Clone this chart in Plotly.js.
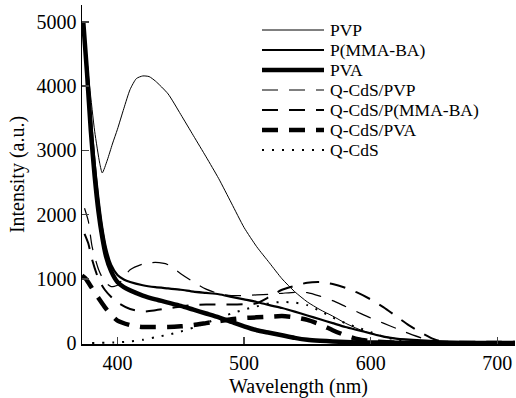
<!DOCTYPE html>
<html><head><meta charset="utf-8">
<script src="https://cdn.plot.ly/plotly-3.0.1.min.js"></script>
<style>html,body{margin:0;padding:0;background:#fff}#chart{width:516px;height:398px}</style>
</head><body><div id="chart"></div>
<script>
// ---- data ----
const seriesNames = ["PVP", "P(MMA-BA)", "PVA", "Q-CdS/PVP", "Q-CdS/P(MMA-BA)", "Q-CdS/PVA", "Q-CdS"];

const pvpX = [373, 378, 382, 386, 388, 392, 396, 400, 405, 410, 415, 420, 425, 430, 440, 450, 460, 470, 480, 490, 500, 510, 520, 530, 540, 550, 560, 570, 580, 590, 600, 620, 650, 700, 714];
const pvpY = [5000, 4000, 3300, 2800, 2650, 2850, 3100, 3330, 3650, 3950, 4120, 4160, 4150, 4080, 3880, 3560, 3230, 2900, 2560, 2180, 1800, 1500, 1250, 1000, 800, 640, 520, 420, 310, 220, 150, 70, 25, 5, 0];

const solidX = [373, 376, 379, 382, 385, 388, 391, 395, 400, 405, 410, 420, 430, 440, 450, 460, 470, 480, 490, 500, 510, 520, 530, 540, 550, 560, 570, 580, 590, 600, 610, 620, 640, 660, 700, 714];
const pmmaY = [5000, 4300, 3500, 2800, 2250, 1800, 1480, 1220, 1060, 990, 950, 900, 870, 850, 830, 800, 780, 760, 720, 680, 640, 590, 545, 490, 430, 370, 310, 250, 200, 150, 100, 70, 40, 20, 5, 0];
const pvaY  = [5000, 4200, 3300, 2600, 2050, 1650, 1350, 1120, 950, 870, 820, 740, 680, 630, 580, 520, 460, 400, 330, 260, 200, 160, 120, 80, 50, 35, 25, 15, 10, 10, 8, 6, 5, 3, 0, 0];

const qpvpX = [374, 377, 380, 385, 390, 395, 400, 410, 420, 430, 440, 450, 460, 470, 480, 490, 500, 510, 520, 530, 540, 550, 560, 570, 580, 590, 600, 610, 620, 630, 640, 650, 660, 700, 714];
const qpvpY = [2100, 1900, 1500, 1150, 950, 880, 900, 1140, 1230, 1255, 1220, 1080, 950, 840, 770, 740, 740, 750, 760, 775, 790, 785, 730, 660, 570, 480, 390, 310, 230, 150, 80, 30, 10, 0, 0];

const qpmmaX = [374, 377, 380, 385, 390, 396, 402, 410, 420, 430, 440, 450, 460, 470, 480, 490, 500, 510, 520, 530, 540, 550, 560, 570, 580, 590, 600, 610, 620, 630, 640, 650, 660, 700, 714];
const qpmmaY = [1700, 1550, 1300, 1000, 830, 700, 610, 530, 490, 510, 540, 570, 590, 600, 600, 600, 605, 620, 720, 830, 890, 940, 950, 920, 860, 780, 680, 560, 420, 280, 160, 60, 10, 0, 0];

const qpvaX = [372, 375, 380, 385, 390, 395, 400, 410, 420, 430, 440, 450, 460, 470, 480, 490, 500, 510, 520, 530, 540, 550, 560, 570, 580, 590, 600, 620, 700, 714];
const qpvaY = [1050, 1000, 850, 700, 560, 440, 350, 280, 250, 250, 250, 260, 280, 310, 340, 370, 390, 400, 410, 420, 400, 360, 290, 200, 120, 60, 30, 5, 0, 0];

const qcdsX = [380, 400, 410, 420, 430, 440, 450, 460, 470, 480, 490, 500, 510, 520, 530, 540, 550, 560, 570, 580, 590, 600, 610, 620, 640, 660];
const qcdsY = [0, 10, 25, 50, 90, 130, 180, 240, 310, 390, 460, 520, 570, 620, 640, 630, 590, 500, 400, 310, 240, 170, 100, 50, 10, 0];

const xTicks = [400, 500, 600, 700];
const yTicks = [0, 1000, 2000, 3000, 4000, 5000];

// ---- styles ----
const FONT = "Liberation Serif, Times New Roman, serif";
const styles = [
  {width: 1, dash: "solid"},
  {width: 2.2, dash: "solid"},
  {width: 4.5, dash: "solid"},
  {width: 1.2, dash: "16px,11px"},
  {width: 2, dash: "16px,11px"},
  {width: 4.5, dash: "16px,11px"},
  {width: 2, dash: "2px,8px"}
];
const xs = [pvpX, solidX, solidX, qpvpX, qpmmaX, qpvaX, qcdsX];
const ys = [pvpY, pmmaY, pvaY, qpvpY, qpmmaY, qpvaY, qcdsY];

const traces = seriesNames.map((n, i) => ({
  type: "scatter", mode: "lines", name: n, x: xs[i], y: ys[i],
  line: {color: "#000", width: styles[i].width, dash: styles[i].dash, shape: "spline", smoothing: 0.6},
  showlegend: false, hoverinfo: "skip"
}));

// custom legend (plot area: left 82, width 433; top 5, height 339)
const L = 82, W = 433, T = 5, H = 339;
const px2x = p => (p - L) / W;
const py2y = p => (T + H - p) / H;
const legendY = [30, 50, 70, 90, 110, 130, 150];
const shapes = [], annotations = [];
seriesNames.forEach((n, i) => {
  shapes.push({type: "line", xref: "paper", yref: "paper",
    x0: px2x(262), x1: px2x(324), y0: py2y(legendY[i]), y1: py2y(legendY[i]),
    line: {color: "#000", width: styles[i].width, dash: styles[i].dash}});
  annotations.push({xref: "paper", yref: "paper", x: px2x(329), y: py2y(legendY[i]),
    xanchor: "left", yanchor: "middle", showarrow: false, text: n, borderpad: 0,
    font: {family: FONT, size: 17.5, color: "#000"}});
});

const layout = {
  width: 516, height: 398,
  margin: {l: L, r: 1, t: T, b: 398 - T - H},
  paper_bgcolor: "#fff", plot_bgcolor: "#fff",
  font: {family: FONT, size: 19, color: "#000"},
  showlegend: false,
  xaxis: {range: [372, 714], tickvals: xTicks, ticks: "inside", ticklen: 7, tickwidth: 1.5,
    showline: true, linecolor: "#000", linewidth: 1.5, showgrid: false, zeroline: false,
    tickfont: {family: FONT, size: 20}, title: {text: "Wavelength (nm)", font: {family: FONT, size: 20}, standoff: 6}},
  yaxis: {range: [-15, 5265], tickvals: yTicks, ticks: "inside", ticklen: 7, tickwidth: 1.5,
    showline: true, linecolor: "#000", linewidth: 1.5, showgrid: false, zeroline: false,
    tickfont: {family: FONT, size: 20}, title: {text: "Intensity (a.u.)", font: {family: FONT, size: 20}, standoff: 6}},
  shapes: shapes, annotations: annotations
};

Plotly.newPlot("chart", traces, layout, {staticPlot: true, displayModeBar: false});
</script>
</body></html>
